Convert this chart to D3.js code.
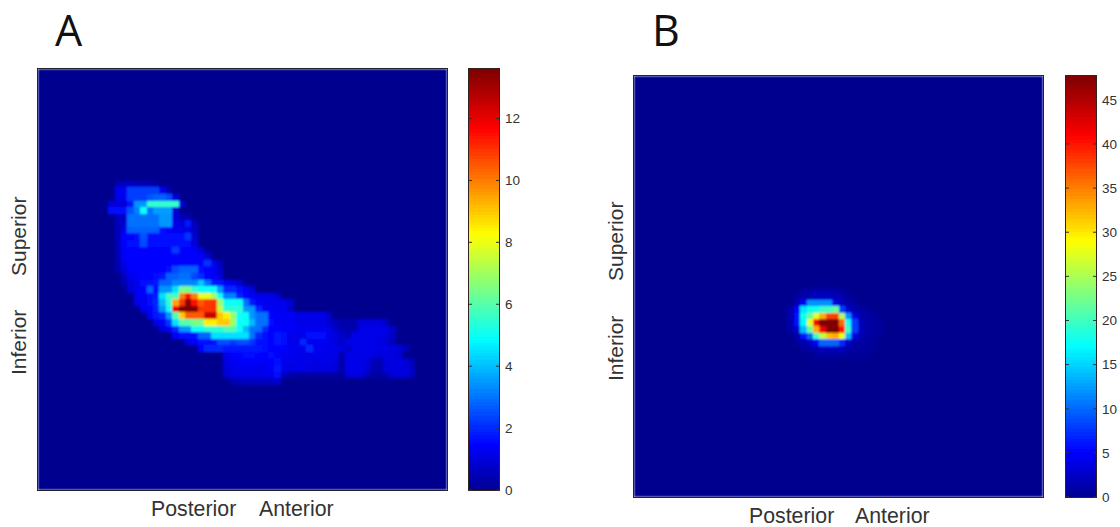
<!DOCTYPE html>
<html>
<head>
<meta charset="utf-8">
<script src="https://cdn.jsdelivr.net/npm/d3@7"></script>
<style>
	html, body { margin: 0; padding: 0; background: #fff; }
	svg { display: block; }
	text { font-family: "Liberation Sans", Arial, sans-serif; fill: #333; }
</style>
</head>
<body>
<div id="chart"></div>
<script>
// heatmap values, written as [row, first column, values...]; every other cell is 0
var panelARows = [
	[17, 12, 0.5, 0.7, 0.7, 0.6, 0.5, 0.5, 0.4],
	[18, 12, 1.3, 1.3, 2.3, 2.3, 2.3, 2.3, 2.3, 1.3, 0.5],
	[19, 12, 1.3, 1.3, 2.3, 2.3, 2.3, 2.6, 2.8, 2.8, 2.5, 1.0],
	[20, 11, 1.0, 1.0, 0.9, 1.7, 3.5, 3.5, 5.6, 5.6, 5.6, 5.6, 5.6, 1.0],
	[21, 11, 1.7, 1.7, 1.7, 2.6, 3.2, 5.0, 3.0, 3.6, 3.6, 3.6, 1.0],
	[22, 12, 0.7, 0.8, 3, 3, 3, 3, 3, 3.5, 3.5, 1.0, 0.6, 0.4],
	[23, 12, 0.6, 0.8, 3, 3, 3, 3, 3, 3.5, 3.5, 1.2, 1.0, 1.8, 0.6],
	[24, 12, 0.6, 1.2, 2.8, 2.8, 2.8, 2.8, 2.8, 1.6, 1.5, 1.3, 1.2, 1.2, 0.7],
	[25, 12, 0.6, 1.5, 1.5, 1.6, 2.6, 1.6, 1.6, 1.6, 1.6, 1.6, 1.6, 2.2, 0.9],
	[26, 12, 0.6, 1.5, 1.6, 1.6, 2.5, 1.6, 1.6, 1.6, 1.6, 1.6, 1.6, 1.6, 1.0],
	[27, 12, 0.6, 1.4, 1.5, 1.5, 1.5, 1.5, 1.5, 1.5, 1.5, 2.3, 1.5, 1.5, 1.4, 1.0],
	[28, 12, 0.5, 1.4, 1.5, 1.5, 1.5, 1.5, 1.5, 1.5, 1.5, 1.5, 1.5, 1.5, 1.5, 1.3, 1.0],
	[29, 12, 0.5, 1.2, 1.5, 1.5, 1.5, 1.5, 1.5, 1.5, 1.5, 1.5, 1.5, 1.5, 1.5, 1.5, 2.2, 1.2, 0.6],
	[30, 12, 0.4, 1.0, 1.4, 1.5, 1.5, 1.5, 1.5, 1.5, 1.6, 2.5, 2.8, 2.8, 2.8, 1.6, 1.5, 1.4, 0.9],
	[31, 13, 0.6, 1.2, 1.4, 1.5, 1.5, 1.6, 1.8, 2.8, 2.8, 3, 3, 2.4, 2.0, 1.5, 1.4, 1.0],
	[32, 13, 0.5, 1.0, 1.3, 1.6, 1.7, 1.8, 2.8, 2.8, 3.3, 3.3, 3.3, 3.3, 4.2, 3, 1.8, 1.8, 1.4, 1.2, 0.9],
	[33, 14, 1.0, 1.3, 1.5, 2.8, 1.7, 3.5, 3.5, 4.5, 6.5, 6.5, 5.5, 5, 5, 5, 3.5, 2, 2, 1.6, 1.4, 1.0],
	[34, 15, 1.3, 1.4, 1.6, 1.9, 4.5, 5.8, 5.8, 10, 11.5, 10, 8, 8, 7, 5, 3.2, 3.2, 1.9, 1.5, 1.4, 1.2, 1.2, 1.2, 0.9],
	[35, 15, 1.2, 1.4, 1.6, 2.0, 4, 5.5, 9.5, 11, 13.5, 11.5, 10.5, 11, 11, 7, 5, 5, 5, 3, 1.8, 1.4, 1.3, 1.3, 1.3, 1.2, 0.9],
	[36, 16, 1.3, 1.5, 1.9, 3.5, 5, 12, 13.6, 13.6, 13.6, 11, 11, 11, 7.5, 5.5, 5.5, 5.5, 3.5, 3.5, 2, 1.4, 1.4, 1.3, 1.3, 0.8],
	[37, 17, 1.3, 1.8, 2.0, 3.5, 6, 9, 10.5, 10.5, 10.5, 12.5, 12.5, 9, 8.5, 7, 5, 5, 3.5, 3, 3, 1.5, 1.4, 1.4, 1.4, 1.2, 1.2, 1.2, 1.2, 1.2, 0.8],
	[38, 18, 1.2, 1.5, 2.2, 4.5, 6, 6, 6.5, 6.5, 8.5, 8.5, 9, 9, 7, 5, 5, 4, 3, 3, 1.6, 1.4, 1.4, 1.4, 1.2, 1.2, 1.2, 1.2, 1.2, 0.9, 0.6, 0.4, 0.4, 0.4, 1.0, 1.0, 1.0, 1.0, 0.7],
	[39, 19, 1.0, 1.4, 2.0, 3.5, 3.5, 5, 5, 5.5, 5.5, 5.5, 6, 6, 5, 4, 3, 3, 2, 1.5, 1.5, 1.4, 1.4, 1.3, 1.3, 1.4, 1.3, 1.2, 1.2, 0.8, 0.5, 0.4, 0.5, 1.2, 1.2, 1.2, 1.2, 1.2, 0.8],
	[40, 21, 1.4, 1.7, 1.7, 1.7, 2.8, 2.8, 4.5, 4.5, 4.5, 4.5, 4.5, 4.5, 3, 2, 1.6, 1.5, 1.8, 1.6, 1.3, 1.2, 1.2, 1.7, 1.7, 1.7, 1.3, 1.1, 0.8, 0.6, 1.2, 1.2, 1.2, 1.2, 1.2, 1.1, 0.7],
	[41, 23, 1.2, 1.5, 1.6, 1.7, 1.7, 2.5, 2.5, 2.2, 2.5, 2.5, 2.2, 1.7, 1.7, 1.5, 1.8, 1.6, 1.2, 1.2, 2.0, 1.3, 1.3, 1.3, 1.2, 1.1, 0.8, 1.2, 1.2, 1.2, 1.2, 1.2, 1.1, 1.0, 0.6],
	[42, 25, 1.5, 2.0, 2.0, 2.0, 1.8, 1.8, 1.8, 1.8, 1.8, 1.8, 1.7, 1.5, 1.5, 1.5, 1.3, 1.3, 1.2, 2.0, 1.3, 1.3, 1.3, 1.2, 1.1, 0.8, 1.2, 1.2, 1.2, 1.2, 1.2, 1.2, 1.1, 1.0, 0.6],
	[43, 29, 1.2, 1.5, 1.5, 1.6, 1.6, 1.5, 1.5, 1.6, 1.5, 1.3, 1.3, 1.3, 1.2, 1.2, 1.2, 1.2, 1.2, 1.2, 0.5, 1.2, 1.2, 1.2, 1.2, 1.1, 1.0, 1.1, 1.1, 1.0],
	[44, 29, 1.1, 1.3, 1.4, 1.5, 1.5, 1.4, 1.4, 1.5, 1.7, 1.3, 1.2, 1.2, 1.2, 1.2, 1.1, 1.2, 1.2, 1.1, 0.4, 1.2, 1.2, 1.2, 1.1, 0.6, 0.5, 1.0, 1.1, 1.1, 1.0, 0.5],
	[45, 29, 1.0, 1.2, 1.3, 1.3, 1.3, 1.2, 1.3, 1.4, 1.8, 1.2, 1.1, 1.2, 1.2, 1.1, 1.1, 1.1, 1.1, 1.0, 0.4, 1.2, 1.2, 1.2, 1.0, 0.5, 0.5, 1.0, 1.1, 1.1, 1.1, 0.8],
	[46, 29, 0.9, 1.1, 1.2, 1.2, 1.2, 1.2, 1.2, 1.3, 1.6, 0.6, 0.4, 0.3, 0.3, 0.3, 0.3, 0.3, 0.3, 0.3, 0.2, 1.0, 1.1, 1.0, 0.6, 0.3, 0.3, 0.5, 0.9, 1.0, 1.0, 0.7],
	[47, 30, 0.5, 0.6, 0.6, 0.7, 0.7, 0.7, 0.7, 0.8]
];
var panelBRows = [
	[32, 26, 0.6, 0.8, 1, 1, 1, 0.8, 0.6],
	[33, 25, 0.8, 1.5, 2, 2.5, 2.5, 2.5, 2, 1.2, 0.6],
	[34, 25, 1.5, 5, 12, 12, 12, 12, 4, 2, 1.2, 0.6],
	[35, 24, 1.2, 5, 16, 18, 18, 20, 20, 22, 8, 3, 1.5, 1, 0.6],
	[36, 24, 1.4, 6, 18, 22, 28, 33, 38, 38, 25, 12, 4, 1.5, 1, 0.7],
	[37, 24, 1.4, 6, 17, 28, 41, 47.7, 47.7, 47.7, 36, 18, 8, 2, 1.2, 0.8, 0.5],
	[38, 24, 1.2, 3, 14, 22, 33, 42, 47.7, 47.7, 40, 20, 8, 2, 1.2, 0.8, 0.5],
	[39, 25, 1.2, 6, 10, 20, 26, 32, 33, 28, 14, 4, 1.5, 1, 0.8, 0.5],
	[40, 25, 0.6, 1.5, 2.5, 5, 10, 10, 10, 7, 3, 1.2, 0.9, 0.6, 0.5],
	[41, 26, 0.6, 1, 1.5, 2, 2, 2, 2, 1.2, 0.8, 0.6, 0.5, 0.4],
	[42, 28, 0.5, 0.8, 0.8, 0.8, 0.6, 0.5, 0.4, 0.4, 0.4]
];
var panelATicks = [0, 2, 4, 6, 8, 10, 12];
var panelBTicks = [0, 5, 10, 15, 20, 25, 30, 35, 40, 45];
var panelAMax = 13.6;
var panelBMax = 47.7;
var sideLabels = ["Inferior", "Superior"];
var bottomLabels = ["Posterior", "Anterior"];

// MATLAB jet colour stops
var jetStops = [0, 0.11, 0.36, 0.61, 0.86, 1];
var jetColors = ["#00008f", "#0000ff", "#00ffff", "#ffff00", "#ff0000", "#800000"];

var gridSize = d3.range(64);

var svg = d3.select("#chart")
	.append("svg")
	.attr("width", 1120)
	.attr("height", 527)
	.attr("viewBox", [0, 0, 1120, 527]);

// the source is a soft jpeg, a small blur brings the cell edges closer to it
var soft = svg.append("defs").append("filter")
	.attr("id", "soft")
	.attr("x", 0).attr("y", 0).attr("width", 1).attr("height", 1);
soft.append("feGaussianBlur").attr("stdDeviation", 0.8);

function drawPanel(opt) {
	var x = d3.scaleBand().domain(gridSize).range([opt.left, opt.left + 409]);
	var y = d3.scaleBand().domain(gridSize).range([opt.top, opt.top + 421]);
	var color = d3.scaleLinear()
		.domain(jetStops.map(function (d) { return d * opt.max; }))
		.range(jetColors)
		.clamp(true);

	// expand the sparse rows into cells
	var cells = [];
	gridSize.forEach(function (r) {
		gridSize.forEach(function (c) {
			cells.push({ row: r, col: c, value: 0 });
		});
	});
	opt.rows.forEach(function (row) {
		row.slice(2).forEach(function (v, i) {
			cells[row[0] * 64 + row[1] + i].value = v;
		});
	});

	// snap the cell edges to whole pixels so no seams show between them
	var map = svg.append("g").attr("filter", "url(#soft)").attr("shape-rendering", "crispEdges");
	map.selectAll("rect")
		.data(cells)
		.enter()
		.append("rect")
		.attr("x", function (d) { return Math.round(x(d.col)); })
		.attr("y", function (d) { return Math.round(y(d.row)); })
		.attr("width", function (d) { return Math.round(x(d.col) + x.bandwidth()) - Math.round(x(d.col)); })
		.attr("height", function (d) { return Math.round(y(d.row) + y.bandwidth()) - Math.round(y(d.row)); })
		.attr("fill", function (d) { return color(d.value); });

	svg.append("rect")
		.attr("x", opt.left - 0.5).attr("y", opt.top - 0.5)
		.attr("width", 410).attr("height", 422)
		.attr("fill", "none").attr("stroke", "#223").attr("stroke-width", 1);

	// colorbar
	var barLeft = opt.barLeft;
	var barWidth = 30;
	var barScale = d3.scaleLinear().domain([0, opt.max]).range([opt.top + 421, opt.top]);
	var levels = d3.range(0, 128);
	var bar = svg.append("g").attr("shape-rendering", "crispEdges");
	bar.selectAll("rect")
		.data(levels)
		.enter()
		.append("rect")
		.attr("x", barLeft)
		.attr("y", function (d) { return Math.floor(barScale((d + 1) / 128 * opt.max)); })
		.attr("width", barWidth)
		.attr("height", Math.ceil(421 / 128) + 1)
		.attr("fill", function (d) { return color((d + 0.5) / 128 * opt.max); });
	svg.append("rect")
		.attr("x", barLeft - 0.5).attr("y", opt.top - 0.5)
		.attr("width", barWidth + 1).attr("height", 422)
		.attr("fill", "none").attr("stroke", "#322").attr("stroke-width", 1);

	var axis = svg.append("g")
		.attr("transform", "translate(" + (barLeft + barWidth) + ",0)")
		.call(d3.axisRight(barScale).tickValues(opt.ticks).tickSize(0).tickPadding(6));
	axis.select(".domain").remove();
	axis.selectAll("text").style("font-size", "13.5px").style("fill", "#333");
	// inner tick marks on both sides of the bar
	[[0, -3], [-barWidth, -barWidth + 3]].forEach(function (t) {
		axis.selectAll(null)
			.data(opt.ticks)
			.enter()
			.append("line")
			.attr("x1", t[0]).attr("x2", t[1])
			.attr("y1", function (d) { return barScale(d); })
			.attr("y2", function (d) { return barScale(d); })
			.attr("stroke", "#333");
	});

	// labels
	svg.append("text")
		.attr("x", opt.letterX).attr("y", 46)
		.style("font-family", "'Open Sans'")
		.style("font-size", "43px")
		.style("fill", "#111")
		.text(opt.letter);

	bottomLabels.forEach(function (t, i) {
		svg.append("text")
			.attr("x", opt.bottomX[i]).attr("y", opt.bottomY)
			.style("font-size", "21.3px")
			.text(t);
	});
	sideLabels.forEach(function (t, i) {
		svg.append("text")
			.attr("transform", "translate(" + opt.sideX + "," + opt.sideY[i] + ") rotate(-90)")
			.style("font-size", "21px")
			.text(t);
	});
}

drawPanel({
	rows: panelARows, ticks: panelATicks, max: panelAMax,
	left: 38, top: 69, barLeft: 469, letter: "A", letterX: 55,
	bottomX: [151, 259], bottomY: 516,
	sideX: 26, sideY: [375, 276]
});
drawPanel({
	rows: panelBRows, ticks: panelBTicks, max: panelBMax,
	left: 634, top: 76, barLeft: 1066, letter: "B", letterX: 652,
	bottomX: [749, 855], bottomY: 523,
	sideX: 623, sideY: [381, 281]
});
</script>
</body>
</html>
